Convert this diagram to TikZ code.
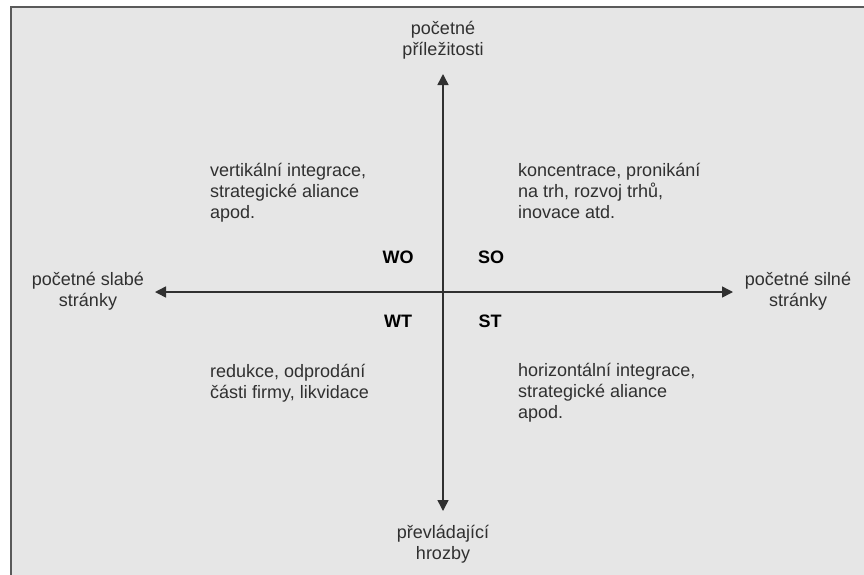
\documentclass[tikz,border=0pt]{standalone}
\usepackage{fontspec}
\setmainfont{Liberation Sans}
\usetikzlibrary{arrows.meta}
\definecolor{bg}{HTML}{E6E6E6}
\definecolor{ink}{HTML}{303030}
\definecolor{frame}{HTML}{5A5A5A}
\tikzset{
  lbl/.style={text=ink, font=\fontsize{18}{20.5}\selectfont, inner sep=0pt, align=center, anchor=base},
  quad/.style={text=ink, font=\fontsize{18}{21}\selectfont, inner sep=0pt, align=left, anchor=base west},
  code/.style={text=black, font=\fontsize{18}{20}\selectfont\bfseries, inner sep=0pt, anchor=base},
  axis/.style={draw=ink, line width=1.5pt, -{Triangle[length=11pt,width=11pt]}}
}
\begin{document}
\begin{tikzpicture}[x=1pt,y=-1pt]
\useasboundingbox (0,0) rectangle (864,574);
\fill[white] (0,0) rectangle (864,574);
\draw[fill=bg, draw=frame, line width=2pt] (11,7) rectangle (880,590);
\coordinate (c) at (443,292);
\coordinate (top) at (443,74);
\coordinate (bot) at (443,511);
\coordinate (lft) at (155,292);
\coordinate (rgt) at (733,292);
\draw[axis] (c) -- (top);
\draw[axis] (c) -- (bot);
\draw[axis] (c) -- (lft);
\draw[axis] (c) -- (rgt);
\node[lbl] (n1) at (443,55) {početné\\příležitosti};
\node[lbl] (n2) at (443,559) {převládající\\hrozby};
\node[lbl] (n3) at (88,306) {početné slabé\\stránky};
\node[lbl] (n4) at (798,306) {početné silné\\stránky};
\node[code] (wo) at (398,263) {WO};
\node[code] (so) at (491,263) {SO};
\node[code] (wt) at (398,327) {WT};
\node[code] (st) at (490,327) {ST};
\node[quad] (q1) at (210,218) {vertikální integrace,\\strategické aliance\\apod.};
\node[quad] (q2) at (518,218) {koncentrace, pronikání\\na trh, rozvoj trhů,\\inovace atd.};
\node[quad] (q3) at (210,398) {redukce, odprodání\\části firmy, likvidace};
\node[quad] (q4) at (518,418) {horizontální integrace,\\strategické aliance\\apod.};
\end{tikzpicture}
\end{document}
